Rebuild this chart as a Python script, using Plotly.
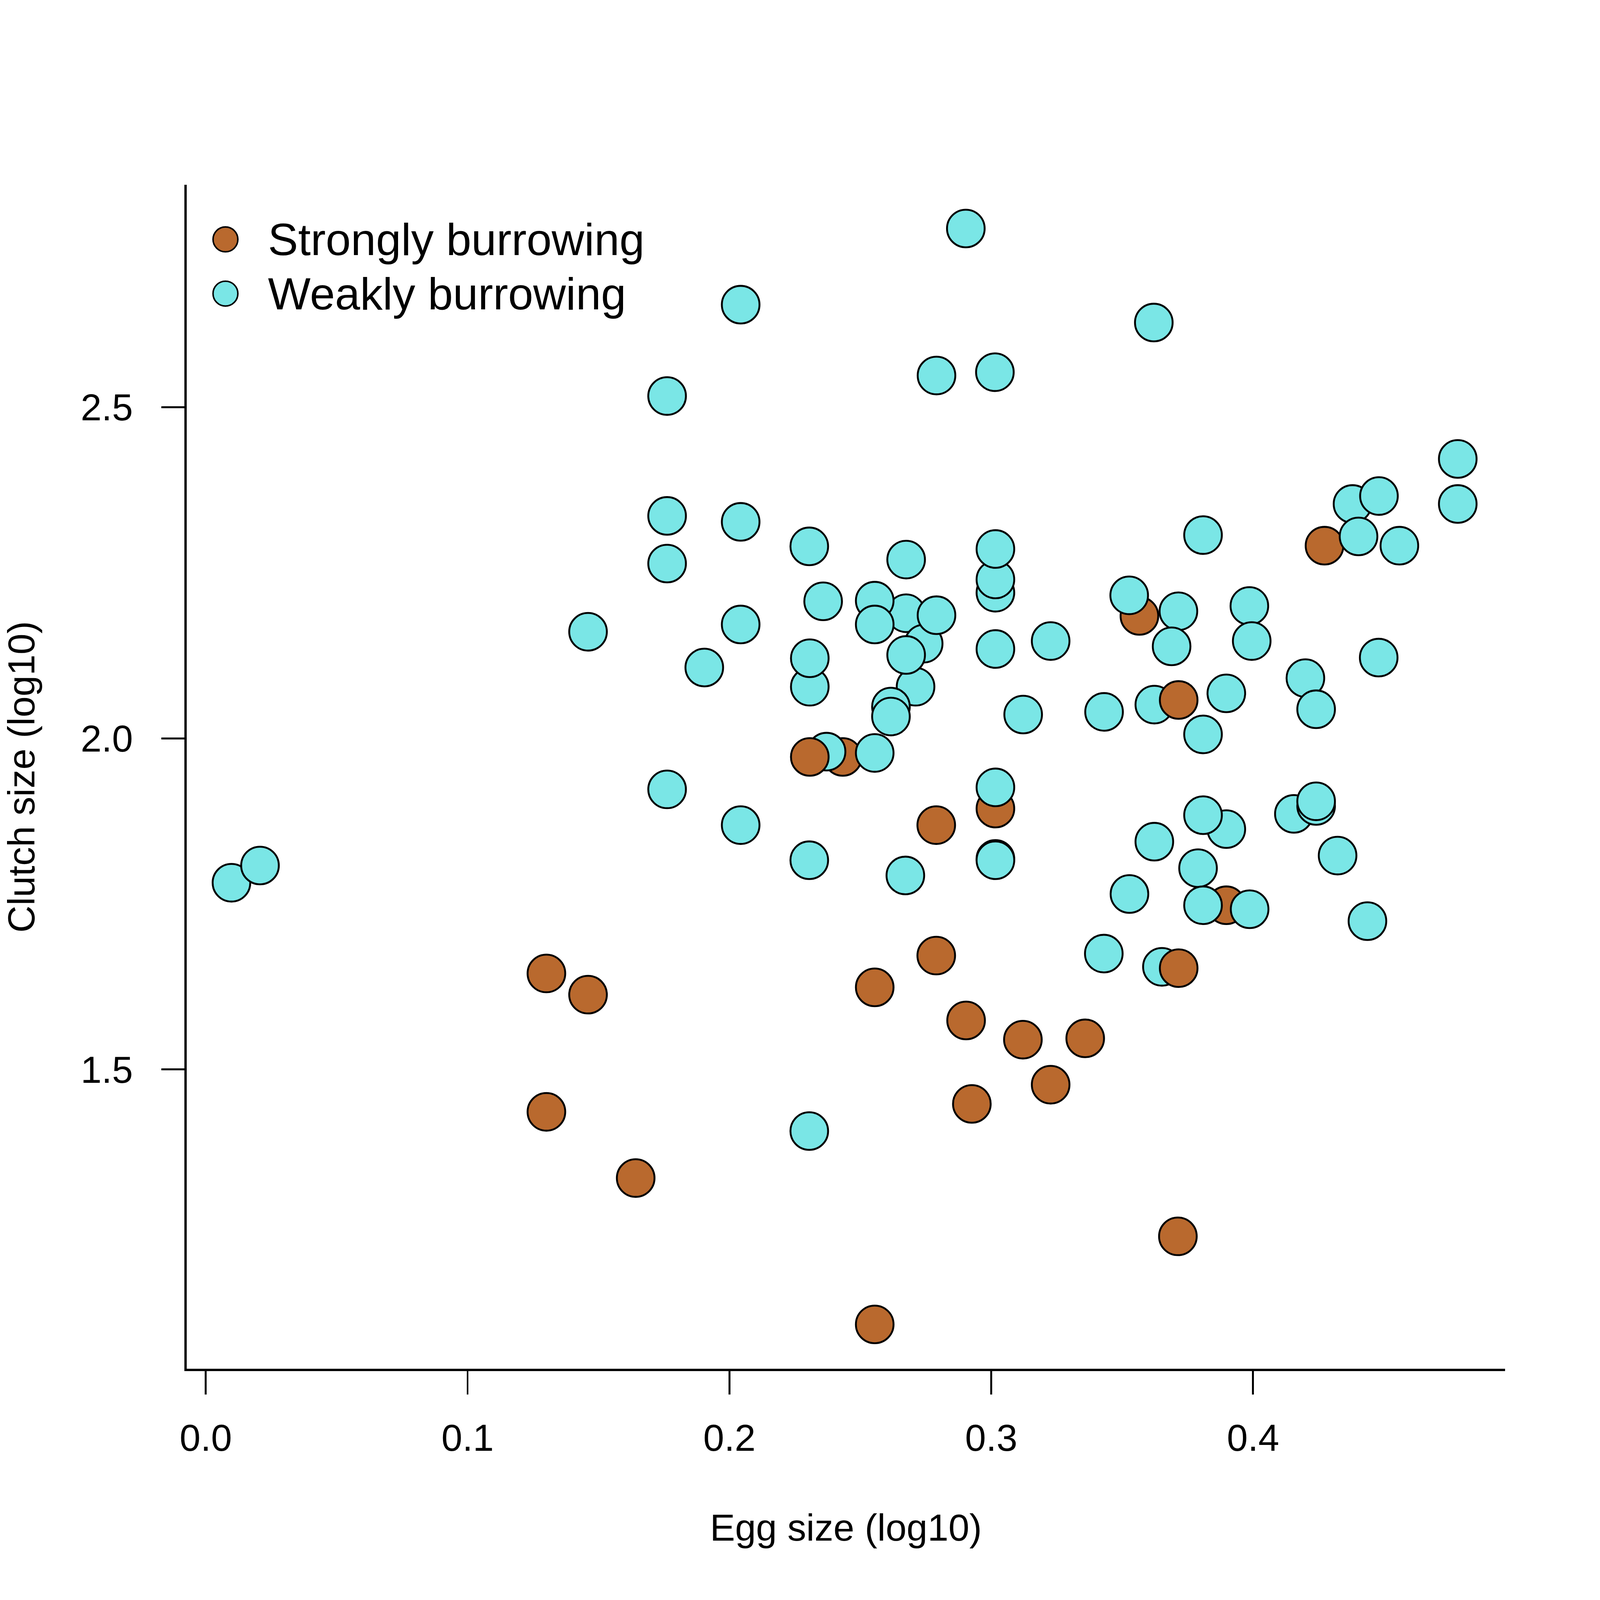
import plotly.graph_objects as go

# data (drawing order matters: later points sit on top) ------------------------------------------
egg_size = [
    0.0098, 0.0207, 0.1301, 0.1460, 0.1301, 0.1642, 0.1460, 0.1762, 0.1762, 0.1762,
    0.1762, 0.1904, 0.2043, 0.2043, 0.2043, 0.2043, 0.2305, 0.2307, 0.2307, 0.2305,
    0.2305, 0.2358, 0.2433, 0.2371, 0.2307, 0.2555, 0.2675, 0.2555, 0.2555, 0.2742,
    0.2791, 0.2711, 0.2675, 0.2617, 0.2617, 0.2675, 0.2672, 0.2555, 0.2555, 0.2790,
    0.2790, 0.2791, 0.2903, 0.2904, 0.2926, 0.3014, 0.3016, 0.3016, 0.3016, 0.3016,
    0.3016, 0.3016, 0.3016, 0.3016, 0.3122, 0.3121, 0.3227, 0.3227, 0.3359, 0.3431,
    0.3430, 0.3566, 0.3527, 0.3715, 0.3689, 0.3528, 0.3621, 0.3623, 0.3716, 0.3623,
    0.3652, 0.3716, 0.3713, 0.3809, 0.3809, 0.3898, 0.3809, 0.3790, 0.3898, 0.3809,
    0.3987, 0.3986, 0.3995, 0.3898, 0.4156, 0.4241, 0.4241, 0.4200, 0.4241, 0.4323,
    0.4437, 0.4480, 0.4273, 0.4380, 0.4481, 0.4403, 0.4559, 0.4782, 0.4782,
]
clutch_size = [
    1.782, 1.808, 1.645, 1.613, 1.436, 1.336, 2.161, 2.517, 2.336, 2.264,
    1.923, 2.107, 2.655, 2.327, 2.172, 1.869, 2.290, 2.078, 2.121, 1.816,
    1.407, 2.207, 1.972, 1.980, 1.972, 1.978, 2.189, 2.208, 2.172, 2.143,
    2.186, 2.078, 2.126, 2.048, 2.033, 2.270, 1.793, 1.624, 1.115, 1.869,
    1.672, 2.548, 2.770, 1.574, 1.448, 2.553, 2.220, 2.240, 2.286, 2.135,
    1.894, 1.926, 1.818, 1.816, 2.036, 1.545, 2.147, 1.477, 1.547, 2.040,
    1.675, 2.185, 2.216, 2.192, 2.139, 1.765, 2.628, 2.051, 2.058, 1.844,
    1.655, 1.653, 1.248, 2.307, 2.006, 1.863, 1.884, 1.804, 1.748, 1.748,
    1.742, 2.200, 2.147, 2.068, 1.886, 1.898, 1.905, 2.091, 2.044, 1.823,
    1.724, 2.122, 2.291, 2.354, 2.366, 2.305, 2.291, 2.422, 2.354,
]
burrowing = list(
    'WWSSSSWWWW'
    'WWWWWWWWWW'
    'WWSWSWWWWW'
    'WWWWWWWSSS'
    'SWWSSWWWWW'
    'SWWWWSWSSW'
    'WSWWWWWWSW'
    'WSSWWWWWSW'
    'WWWWWWWWWW'
    'WWSWWWWWW'
)
group_names = {'S': 'Strongly burrowing', 'W': 'Weakly burrowing'}
group_colors = {'S': '#B9692E', 'W': '#7AE6E6'}

font_family = 'Liberation Sans, Arial, sans-serif'
FIG_SIZE = 4251

# plot -------------------------------------------------------------------------------------------
fig = go.Figure()
fig.add_trace(go.Scatter(
    x=egg_size,
    y=clutch_size,
    mode='markers',
    text=[group_names[g] for g in burrowing],
    hoverinfo='x+y+text',
    marker=dict(
        size=100,
        color=[group_colors[g] for g in burrowing],
        line=dict(color='black', width=5)
    ),
    showlegend=False
))

# hand-made legend, R style
for i, key in enumerate(['S', 'W']):
    yc = 0.9539 - i * 0.0458
    fig.add_shape(
        type='circle', xref='paper', yref='paper',
        xsizemode='pixel', ysizemode='pixel',
        xanchor=0.0294, yanchor=yc,
        x0=-33, x1=33, y0=-33, y1=33,
        fillcolor=group_colors[key], line=dict(color='black', width=4)
    )
    fig.add_annotation(
        text=group_names[key], xref='paper', yref='paper',
        x=0.0611, y=yc, xanchor='left', yanchor='middle',
        showarrow=False, font=dict(size=120, color='black', family=font_family)
    )

axis_style = dict(
    showline=True, linecolor='black', linewidth=5.5,
    ticks='outside', ticklen=62, tickwidth=4.5, tickcolor='black',
    showgrid=False, zeroline=False, mirror=False,
    tickfont=dict(size=100, color='black', family=font_family),
)

fig.update_xaxes(
    range=[-0.0073, 0.4963],
    tickvals=[0.0, 0.1, 0.2, 0.3, 0.4],
    ticktext=['0.0', '0.1', '0.2', '0.3', '0.4'],
    ticklabelstandoff=30,
    title=dict(text='Egg size (log10)', standoff=150,
               font=dict(size=100, color='black', family=font_family)),
    **axis_style
)
fig.update_yaxes(
    range=[1.0478, 2.836],
    tickvals=[1.5, 2.0, 2.5],
    ticktext=['1.5', '2.0', '2.5'],
    ticklabelstandoff=55,
    title=dict(text='Clutch size (log10)', standoff=110,
               font=dict(size=100, color='black', family=font_family)),
    **axis_style
)

fig.update_layout(
    width=FIG_SIZE, height=FIG_SIZE,
    margin=dict(l=496, r=252, t=491, b=614, autoexpand=False),
    plot_bgcolor='white', paper_bgcolor='white',
    font=dict(family=font_family, color='black'),
)

# fit the fixed-size figure into whatever viewport the page gets
fit_js = """
document.documentElement.style.overflow = 'hidden';
document.body.style.margin = '0';
document.body.style.overflow = 'hidden';
var gd = document.getElementById('{plot_id}');
var s = Math.min(window.innerWidth, window.innerHeight) / %d;
gd.style.transformOrigin = '0 0';
gd.style.transform = 'scale(' + s + ')';
""" % FIG_SIZE

fig.write_html('out.html', post_script=fit_js, config={'displayModeBar': False})
